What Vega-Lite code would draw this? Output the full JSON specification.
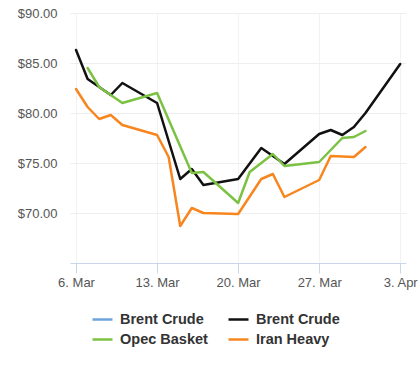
{
  "$schema": "https://vega.github.io/schema/vega-lite/v6.json",
  "width": 336,
  "height": 250,
  "autosize": {"type": "none"},
  "padding": {"left": 70, "top": 13, "right": 12, "bottom": 106},
  "background": "white",
  "config": {
    "view": {"stroke": null},
    "font": "Liberation Sans"
  },
  "data": {
    "values": [
      {"d": "2023-03-06T00:00", "s": "Brent Crude", "v": 86.3},
      {"d": "2023-03-07T00:00", "s": "Brent Crude", "v": 83.4},
      {"d": "2023-03-09T00:00", "s": "Brent Crude", "v": 81.8},
      {"d": "2023-03-10T00:00", "s": "Brent Crude", "v": 83.0},
      {"d": "2023-03-13T00:00", "s": "Brent Crude", "v": 81.0},
      {"d": "2023-03-15T00:00", "s": "Brent Crude", "v": 73.4},
      {"d": "2023-03-16T00:00", "s": "Brent Crude", "v": 74.4},
      {"d": "2023-03-17T00:00", "s": "Brent Crude", "v": 72.8},
      {"d": "2023-03-20T00:00", "s": "Brent Crude", "v": 73.4},
      {"d": "2023-03-22T00:00", "s": "Brent Crude", "v": 76.5},
      {"d": "2023-03-24T00:00", "s": "Brent Crude", "v": 74.9},
      {"d": "2023-03-27T00:00", "s": "Brent Crude", "v": 77.9},
      {"d": "2023-03-28T00:00", "s": "Brent Crude", "v": 78.3},
      {"d": "2023-03-29T00:00", "s": "Brent Crude", "v": 77.8},
      {"d": "2023-03-30T00:00", "s": "Brent Crude", "v": 78.6},
      {"d": "2023-03-31T00:00", "s": "Brent Crude", "v": 80.0},
      {"d": "2023-04-03T00:00", "s": "Brent Crude", "v": 84.9},
      {"d": "2023-03-07T00:00", "s": "Opec Basket", "v": 84.5},
      {"d": "2023-03-08T00:00", "s": "Opec Basket", "v": 82.6},
      {"d": "2023-03-10T00:00", "s": "Opec Basket", "v": 81.0},
      {"d": "2023-03-13T00:00", "s": "Opec Basket", "v": 82.0},
      {"d": "2023-03-16T00:00", "s": "Opec Basket", "v": 74.0},
      {"d": "2023-03-17T00:00", "s": "Opec Basket", "v": 74.1},
      {"d": "2023-03-20T00:00", "s": "Opec Basket", "v": 71.0},
      {"d": "2023-03-21T00:00", "s": "Opec Basket", "v": 74.1},
      {"d": "2023-03-23T00:00", "s": "Opec Basket", "v": 75.9},
      {"d": "2023-03-24T00:00", "s": "Opec Basket", "v": 74.7},
      {"d": "2023-03-27T00:00", "s": "Opec Basket", "v": 75.1},
      {"d": "2023-03-29T00:00", "s": "Opec Basket", "v": 77.5},
      {"d": "2023-03-30T00:00", "s": "Opec Basket", "v": 77.6},
      {"d": "2023-03-31T00:00", "s": "Opec Basket", "v": 78.2},
      {"d": "2023-03-06T00:00", "s": "Iran Heavy", "v": 82.4},
      {"d": "2023-03-07T00:00", "s": "Iran Heavy", "v": 80.6},
      {"d": "2023-03-08T00:00", "s": "Iran Heavy", "v": 79.4},
      {"d": "2023-03-09T00:00", "s": "Iran Heavy", "v": 79.8},
      {"d": "2023-03-10T00:00", "s": "Iran Heavy", "v": 78.8},
      {"d": "2023-03-13T00:00", "s": "Iran Heavy", "v": 77.8},
      {"d": "2023-03-14T00:00", "s": "Iran Heavy", "v": 75.6},
      {"d": "2023-03-15T00:00", "s": "Iran Heavy", "v": 68.7},
      {"d": "2023-03-16T00:00", "s": "Iran Heavy", "v": 70.5},
      {"d": "2023-03-17T00:00", "s": "Iran Heavy", "v": 70.0},
      {"d": "2023-03-20T00:00", "s": "Iran Heavy", "v": 69.9},
      {"d": "2023-03-22T00:00", "s": "Iran Heavy", "v": 73.4},
      {"d": "2023-03-23T00:00", "s": "Iran Heavy", "v": 73.9},
      {"d": "2023-03-24T00:00", "s": "Iran Heavy", "v": 71.6},
      {"d": "2023-03-27T00:00", "s": "Iran Heavy", "v": 73.3},
      {"d": "2023-03-28T00:00", "s": "Iran Heavy", "v": 75.7},
      {"d": "2023-03-30T00:00", "s": "Iran Heavy", "v": 75.6},
      {"d": "2023-03-31T00:00", "s": "Iran Heavy", "v": 76.6}
    ]
  },
  "mark": {"type": "line", "strokeWidth": 2.5, "strokeJoin": "round", "strokeCap": "round"},
  "encoding": {
    "x": {
      "field": "d",
      "type": "temporal",
      "scale": {"domain": ["2023-03-05T11:30", "2023-04-03T12:00"]},
      "axis": {
        "title": null,
        "format": "%-d. %b",
        "values": [
          {"year": 2023, "month": 3, "date": 6},
          {"year": 2023, "month": 3, "date": 13},
          {"year": 2023, "month": 3, "date": 20},
          {"year": 2023, "month": 3, "date": 27},
          {"year": 2023, "month": 4, "date": 3}
        ],
        "domainColor": "#ccd6eb",
        "tickColor": "#ccd6eb",
        "tickSize": 10,
        "gridColor": "#f2f2f2",
        "labelColor": "#555555",
        "labelFontSize": 13,
        "labelPadding": 3,
        "labelFlush": false
      }
    },
    "y": {
      "field": "v",
      "type": "quantitative",
      "scale": {"domain": [65, 90], "nice": false, "zero": false},
      "axis": {
        "title": null,
        "values": [70, 75, 80, 85, 90],
        "format": "$.2f",
        "domain": false,
        "ticks": false,
        "gridColor": "#eeeeee",
        "labelColor": "#555555",
        "labelFontSize": 13,
        "labelPadding": 13
      }
    },
    "color": {
      "field": "s",
      "type": "nominal",
      "scale": {
        "domain": ["Brent Crude A", "Opec Basket", "Brent Crude", "Iran Heavy"],
        "range": ["#6fa3dc", "#7cc242", "#111111", "#f7861f"]
      },
      "legend": {
        "title": null,
        "orient": "none",
        "legendX": 21,
        "legendY": 295,
        "columns": 2,
        "columnPadding": 15,
        "rowPadding": 2,
        "symbolType": "stroke",
        "symbolSize": 400,
        "symbolStrokeWidth": 2.5,
        "labelFontSize": 14.5,
        "labelFontWeight": "bold",
        "labelColor": "#333333",
        "labelOffset": 6,
        "labelExpr": "datum.label == 'Brent Crude A' ? 'Brent Crude' : datum.label"
      }
    }
  }
}
